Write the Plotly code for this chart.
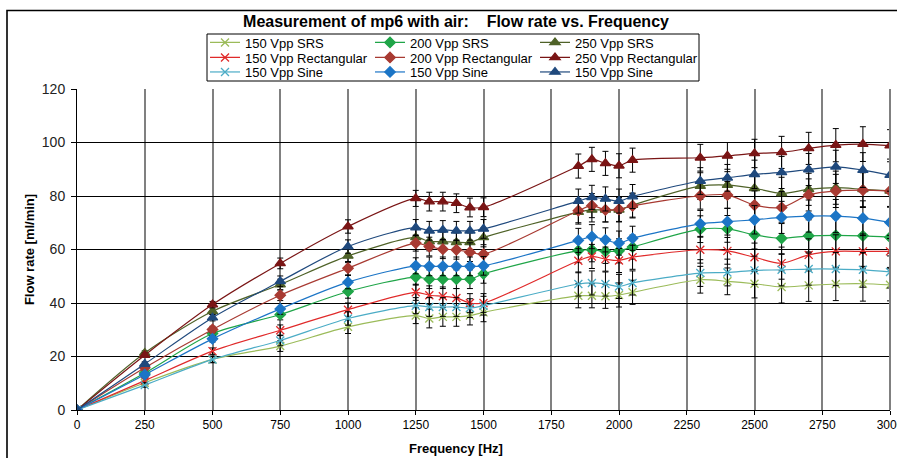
import plotly.graph_objects as go

freq = [0, 250, 500, 750, 1000, 1250, 1300, 1350, 1400, 1450, 1500,
        1850, 1900, 1950, 2000, 2050, 2300, 2400, 2500, 2600, 2700, 2800, 2900, 3000]

srs_150 = [0, 10.2, 18.9, 23.9, 31.1, 35.3, 34.2, 34.8, 34.8, 35.3, 36.5,
           42.7, 42.7, 42.5, 43.0, 44.0, 48.7, 48.1, 47.2, 46.0, 46.6, 47.1, 47.2, 46.8]
rect_150 = [0, 11.0, 22.0, 29.8, 37.5, 44.0, 42.9, 42.5, 41.9, 40.0, 40.0,
            55.8, 57.4, 56.4, 55.9, 57.1, 59.9, 59.5, 57.1, 54.9, 58.0, 59.3, 59.3, 59.3]
sine_150 = [0, 9.3, 18.9, 26.0, 34.2, 39.0, 38.5, 38.5, 38.5, 38.1, 39.0,
            47.1, 47.5, 47.1, 46.2, 47.5, 51.2, 51.4, 52.2, 52.4, 52.7, 52.7, 52.4, 51.6]
srs_200 = [0, 13.8, 28.6, 35.7, 44.3, 49.7, 48.9, 48.9, 48.9, 48.9, 50.9,
           59.6, 59.9, 59.3, 59.5, 60.9, 67.6, 67.7, 65.5, 64.2, 65.1, 65.3, 65.1, 64.6]
rect_200 = [0, 15.8, 30.1, 42.9, 53.0, 62.4, 61.1, 60.1, 59.9, 59.0, 58.3,
            74.5, 76.4, 74.8, 75.0, 76.3, 80.1, 80.4, 76.6, 75.7, 80.4, 81.9, 82.2, 81.9]
sine_200 = [0, 13.2, 26.6, 37.8, 47.8, 53.9, 53.7, 53.7, 53.7, 53.7, 53.9,
            63.4, 64.8, 63.6, 62.4, 64.2, 69.6, 70.4, 71.1, 72.0, 72.5, 72.5, 71.7, 70.1]
srs_250 = [0, 21.3, 36.9, 46.9, 57.6, 64.5, 63.0, 63.0, 62.7, 62.7, 64.5,
           74.0, 74.8, 74.8, 74.8, 76.6, 83.7, 84.1, 82.9, 81.0, 82.5, 83.1, 82.5, 81.9]
rect_250 = [0, 20.5, 39.4, 54.8, 68.6, 79.1, 77.9, 77.9, 77.3, 75.7, 75.8,
            91.2, 93.7, 92.2, 91.3, 93.4, 94.3, 95.0, 95.9, 96.3, 97.8, 99.0, 99.4, 98.8]
sine_250 = [0, 17.2, 34.5, 48.1, 61.1, 68.2, 67.0, 67.3, 67.0, 67.0, 67.7,
            78.1, 79.5, 78.9, 78.1, 79.8, 85.6, 86.8, 88.1, 88.8, 89.9, 90.9, 89.7, 87.8]

# error bar half-lengths (ml/min) per frequency
err = [0, 0.8, 1.2, 2.0, 2.5, 3.0, 3.5, 3.5, 3.5, 3.5, 3.5,
       4.5, 4.5, 4.5, 4.5, 4.5, 5.0, 5.0, 5.3, 6.0, 6.0, 6.2, 6.5, 6.0]

x_ticks = [0, 250, 500, 750, 1000, 1250, 1500, 1750, 2000, 2250, 2500, 2750, 3000]
y_ticks = [0, 20, 40, 60, 80, 100, 120]

series = [
    # name, values, color, symbol, size, legend row
    ("150 Vpp SRS", srs_150, "#9BBB59", "x-thin-open", 8, "legend"),
    ("200 Vpp SRS", srs_200, "#1FA548", "diamond", 8, "legend"),
    ("250 Vpp SRS", srs_250, "#4F6228", "triangle-up", 9, "legend"),
    ("150 Vpp Rectangular", rect_150, "#E02A2A", "x-thin-open", 8, "legend2"),
    ("200 Vpp Rectangular", rect_200, "#A83A32", "diamond", 8, "legend2"),
    ("250 Vpp Rectangular", rect_250, "#7A1515", "triangle-up", 9, "legend2"),
    ("150 Vpp Sine", sine_150, "#4BACC6", "x-thin-open", 8, "legend3"),
    ("150 Vpp Sine", sine_200, "#1C75C6", "diamond", 8, "legend3"),
    ("150 Vpp Sine", sine_250, "#1F497D", "triangle-up", 9, "legend3"),
]

fig = go.Figure()
for name, vals, color, sym, size, leg in series:
    fig.add_trace(go.Scatter(
        x=freq, y=vals, name=name, mode="lines+markers",
        line=dict(color=color, width=1.2, shape="spline", smoothing=0.8),
        marker=dict(symbol=sym, size=size, color=color,
                    line=dict(color=color, width=1.3)),
        error_y=dict(type="data", array=err, visible=True,
                     color="black", thickness=1, width=3),
        legend=leg,
    ))

W, H = 897, 458
ml, mr, mt, mb = 77, 7, 89, 48
pw, ph = W - ml - mr, H - mt - mb

def px_x(p):
    return (p - ml) / pw

def px_y(p):
    return 1 + (mt - p) / ph

leg_common = dict(orientation="h", xref="paper", yref="paper",
                  x=px_x(205), xanchor="left", yanchor="middle",
                  bgcolor="rgba(0,0,0,0)", borderwidth=0,
                  entrywidth=120, entrywidthmode="pixels", itemwidth=30,
                  font=dict(family="Liberation Sans, Arial", size=13, color="black"),
                  traceorder="normal")

fig.update_layout(
    width=W, height=H,
    margin=dict(l=ml, r=mr, t=mt, b=mb, autoexpand=False),
    paper_bgcolor="white", plot_bgcolor="white",
    title=dict(text="<b>Measurement of mp6 with air:\u00a0\u00a0\u00a0 Flow rate vs. Frequency</b>",
               x=(456 / W), xanchor="center", y=1 - 21 / H, yanchor="middle",
               font=dict(family="Liberation Sans, Arial", size=16, color="black")),
    legend=dict(leg_common, y=px_y(42.5)),
    legend2=dict(leg_common, y=px_y(57.5)),
    legend3=dict(leg_common, y=px_y(72)),
    showlegend=True,
    xaxis=dict(range=[0, 3000], tickvals=x_ticks, ticktext=[str(v) for v in x_ticks],
               showgrid=True, gridcolor="#808080", gridwidth=2,
               showline=True, linecolor="black", linewidth=1, mirror=False,
               ticks="outside", ticklen=4, tickcolor="black",
               ticklabeloverflow="allow",
               tickfont=dict(family="Liberation Sans Narrow, Arial Narrow, Liberation Sans",
                             size=12, color="black"),
               zeroline=False),
    yaxis=dict(range=[0, 120], tickvals=y_ticks,
               showgrid=True, gridcolor="black", gridwidth=1,
               showline=True, linecolor="black", linewidth=1,
               ticks="outside", ticklen=5, tickcolor="black",
               ticklabelstandoff=3,
               tickfont=dict(family="Liberation Sans, Arial", size=14, color="#222"),
               title=dict(text="<b>Flow rate [ml/min]</b>", standoff=4,
                          font=dict(family="Liberation Sans, Arial", size=13, color="black")),
               zeroline=False),
    annotations=[
        dict(text="<b>Frequency [Hz]</b>", xref="paper", yref="paper",
             x=px_x(456), y=px_y(448), xanchor="center", yanchor="middle",
             showarrow=False,
             font=dict(family="Liberation Sans, Arial", size=13, color="black")),
    ],
    shapes=[
        # legend frame
        dict(type="rect", xref="paper", yref="paper",
             x0=px_x(207), x1=px_x(699), y0=px_y(81), y1=px_y(34),
             line=dict(color="black", width=1), fillcolor="rgba(0,0,0,0)", layer="above"),
        # chart outer frame
        dict(type="rect", xref="paper", yref="paper",
             x0=px_x(7), x1=px_x(960), y0=px_y(520), y1=px_y(10.5),
             line=dict(color="black", width=1.6), fillcolor="rgba(0,0,0,0)", layer="above"),
        # right plot edge
        dict(type="line", xref="paper", yref="paper", x0=1, x1=1, y0=0, y1=1,
             line=dict(color="#808080", width=2)),
    ],
)

fig.write_html("out.html")
